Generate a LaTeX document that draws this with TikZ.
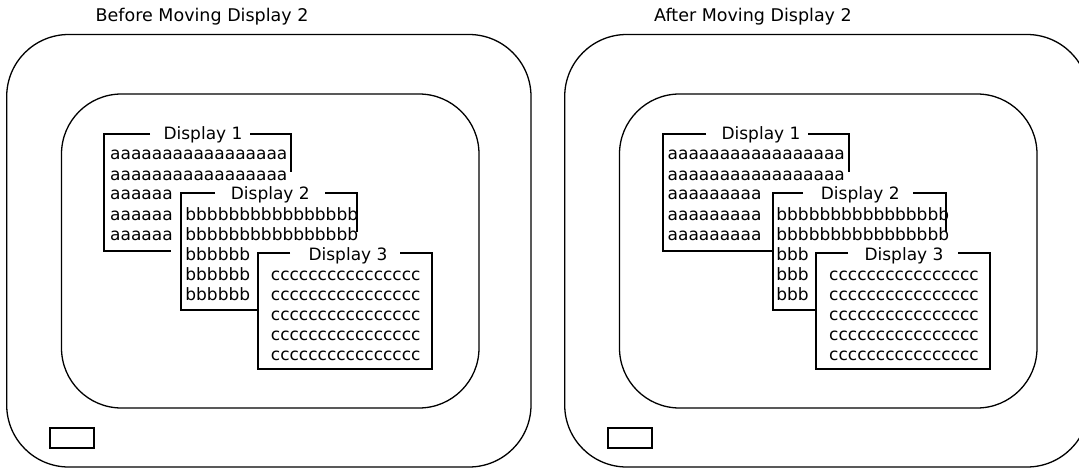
\documentclass[tikz,border=0pt]{standalone}
\usepackage{fontspec}
\setmainfont{DejaVu Sans}
\begin{document}
\begin{tikzpicture}[x=1pt,y=-1pt,
  frame/.style={line width=1.3pt},
  winline/.style={line width=2pt},
  keybox/.style={line width=2.3pt},
  txt/.style={inner sep=0pt, anchor=base west, font=\fontsize{17}{17}\selectfont},
  ttl/.style={inner sep=0pt, anchor=base, font=\fontsize{17}{17}\selectfont},
  head/.style={inner sep=0pt, anchor=base west, font=\fontsize{17.5}{17.5}\selectfont}]
\useasboundingbox (0,0) rectangle (1079,468);
\clip (0,0) rectangle (1079,468);
% ---------------- left panel ----------------
\node[head] (headL) at (95.5,22) {Before Moving Display 2};
\draw[frame,rounded corners=62pt] (6.7,34.5) rectangle (531,467);
\draw[frame,rounded corners=60pt] (61.5,94) rectangle (479,408);
\draw[keybox] (50,428.3) rectangle (94.3,448.3);
% Display 1
\node[ttl] (t1L) at (203,140) {Display 1};
\draw[winline] (150,134) -- (104,134) -- (104,250.5) -- (171,250.5);
\draw[winline] (250,134) -- (291,134) -- (291,172);
\node[txt] (a1L) at (110,160) {aaaaaaaaaaaaaaaaa};
\node[txt] (a2L) at (110,180) {aaaaaaaaaaaaaaaaa};
\node[txt] (a3L) at (110,200) {aaaaaa};
\node[txt] (a4L) at (110,220) {aaaaaa};
\node[txt] (a5L) at (110,240) {aaaaaa};
% Display 2
\node[ttl] (t2L) at (270.3,200) {Display 2};
\draw[winline] (215,193) -- (181,193) -- (181,310) -- (258.3,310);
\draw[winline] (325,193) -- (357,193) -- (357,232);
\node[txt] (b1L) at (185.2,220) {bbbbbbbbbbbbbbbb};
\node[txt] (b2L) at (185.2,240) {bbbbbbbbbbbbbbbb};
\node[txt] (b3L) at (185.2,260) {bbbbbb};
\node[txt] (b4L) at (185.2,280) {bbbbbb};
\node[txt] (b5L) at (185.2,300) {bbbbbb};
% Display 3
\node[ttl] (t3L) at (348,260) {Display 3};
\draw[winline] (290,253) -- (258.3,253) -- (258.3,369) -- (431.7,369) -- (431.7,253) -- (400,253);
\node[txt] (c1L) at (270.7,280) {cccccccccccccccc};
\node[txt] (c2L) at (270.7,300) {cccccccccccccccc};
\node[txt] (c3L) at (270.7,320) {cccccccccccccccc};
\node[txt] (c4L) at (270.7,340) {cccccccccccccccc};
\node[txt] (c5L) at (270.7,360) {cccccccccccccccc};
% ---------------- right panel ----------------
\begin{scope}[xshift=558pt]
\node[head] (headR) at (96,22) {After Moving Display 2};
\draw[frame,rounded corners=62pt] (6.7,34.5) rectangle (531,467);
\draw[frame,rounded corners=60pt] (61.5,94) rectangle (479,408);
\draw[keybox] (50,428.3) rectangle (94.3,448.3);
% Display 1
\node[ttl] (t1R) at (203,140) {Display 1};
\draw[winline] (148,134) -- (104.5,134) -- (104.5,251) -- (214.7,251);
\draw[winline] (250,134) -- (291,134) -- (291,172);
\node[txt] (a1R) at (109.5,160) {aaaaaaaaaaaaaaaaa};
\node[txt] (a2R) at (109.5,180) {aaaaaaaaaaaaaaaaa};
\node[txt] (a3R) at (109.5,200) {aaaaaaaaa};
\node[txt] (a4R) at (109.5,220) {aaaaaaaaa};
\node[txt] (a5R) at (109.5,240) {aaaaaaaaa};
% Display 2
\node[ttl] (t2R) at (302.3,200) {Display 2};
\draw[winline] (245,193) -- (214.7,193) -- (214.7,310) -- (257.7,310);
\draw[winline] (355,193) -- (387.7,193) -- (387.7,232);
\node[txt] (b1R) at (218.2,220) {bbbbbbbbbbbbbbbb};
\node[txt] (b2R) at (218.2,240) {bbbbbbbbbbbbbbbb};
\node[txt] (b3R) at (218.2,260) {bbb};
\node[txt] (b4R) at (218.2,280) {bbb};
\node[txt] (b5R) at (218.2,300) {bbb};
% Display 3
\node[ttl] (t3R) at (346,260) {Display 3};
\draw[winline] (290,253) -- (257.7,253) -- (257.7,369) -- (432,369) -- (432,253) -- (400,253);
\node[txt] (c1R) at (271,280) {cccccccccccccccc};
\node[txt] (c2R) at (271,300) {cccccccccccccccc};
\node[txt] (c3R) at (271,320) {cccccccccccccccc};
\node[txt] (c4R) at (271,340) {cccccccccccccccc};
\node[txt] (c5R) at (271,360) {cccccccccccccccc};
\end{scope}
\end{tikzpicture}
\end{document}
